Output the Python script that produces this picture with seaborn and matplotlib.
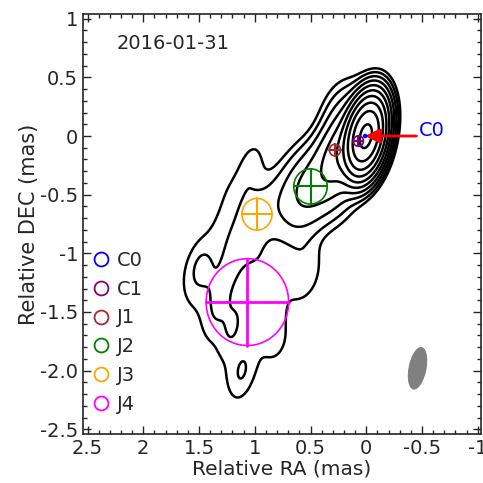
import numpy as np
import matplotlib
matplotlib.use("Agg")
import matplotlib.pyplot as plt
from matplotlib.patches import Ellipse
from matplotlib.lines import Line2D
import seaborn as sns

# ---- model-fit components (overlay) ----
comp_names = ["C0", "C1", "J1", "J2", "J3", "J4"]
comp_ra = [0.01, 0.07, 0.28, 0.50, 0.98, 1.066]
comp_dec = [0.0, -0.043, -0.12, -0.43, -0.667, -1.416]
comp_size = [0.025, 0.09, 0.10, 0.30, 0.27, 0.74]   # FWHM (mas)
comp_colors = ["blue", "purple", "brown", "green", "orange", "magenta"]

# ---- emission blobs that build the CLEAN image (mJy/beam) ----
em_ra = [0.00, 0.07, 0.18, 0.22, 0.32, 0.25, 0.48, 0.58, 0.65, 0.55,
         0.78, 0.98, 1.03, 1.18, 1.07, 1.28,
         1.20, 1.12, 0.80, 1.17, 1.50,
         1.50, 1.40, 1.22, 1.33, 1.20, 1.11, 0.93, 0.86]
em_dec = [0.00, -0.04, 0.15, -0.12, -0.22, -0.45, -0.40, -0.55, -0.85, -1.15,
          -0.58, -0.67, -0.25, -0.50, -0.92, -0.85,
          -1.30, -1.80, -1.75, -2.00, -1.20,
          -1.12, -1.22, -1.14, -1.45, -1.62, -2.02, -1.15, -1.45]
em_peak = [600, 30, 5.0, 16, 9.0, 2.5, 7.0, 3.0, 0.8, 1.4,
           1.5, 1.6, 1.3, 0.9, 1.5, 0.9,
           0.6, 0.55, 0.5, 0.35, 0.35,
           1.3, 0.55, 1.2, 1.2, 1.2, 1.2, 0.9, 0.9]
em_fwhm = [0.10, 0.08, 0.25, 0.15, 0.20, 0.25, 0.30, 0.30, 0.25, 0.20,
           0.30, 0.25, 0.10, 0.20, 0.15, 0.20,
           1.00, 1.00, 0.20, 0.10, 0.35,
           0.05, 0.0, 0.0, 0.05, 0.0, 0.0, 0.10, 0.10]

# ---- restoring beam ----
beam_ra, beam_dec = -0.46, -1.98
beam_min, beam_maj, beam_angle = 0.16, 0.37, 12.0

# contour levels (mJy/beam)
levels = [1, 2, 4, 8, 16, 32, 64, 128, 256, 512]

date_label = "2016-01-31"

sns.set_style("ticks")
plt.rcParams['font.family'] = ['DejaVu Sans']

fig = plt.figure(figsize=(4.83, 4.83), dpi=100)
ax = fig.add_axes([0.172, 0.1015, 0.824, 0.8695])

# image grid
gx = np.linspace(-1.1, 2.6, 700)
gy = np.linspace(-2.6, 1.1, 700)
X, Y = np.meshgrid(gx, gy)
k = 8 * np.log(2)
th = np.deg2rad(beam_angle)
R = np.array([[np.cos(th), -np.sin(th)], [np.sin(th), np.cos(th)]])
SB = R @ np.diag([beam_min**2 / k, beam_maj**2 / k]) @ R.T
Z = np.zeros_like(X)
for x0, y0, p, d in zip(em_ra, em_dec, em_peak, em_fwhm):
    S = SB + np.eye(2) * d**2 / k
    a, b, c = S[0, 0], S[0, 1], S[1, 1]
    det = a * c - b * b
    dx, dy = X - x0, Y - y0
    q = (c * dx**2 - 2 * b * dx * dy + a * dy**2) / det
    Z += p * np.exp(-0.5 * q)

ax.contour(X, Y, Z, levels=levels, colors='black', linewidths=1.8)

# components
for n, x0, y0, d, col in zip(comp_names, comp_ra, comp_dec, comp_size, comp_colors):
    r = d / 2
    ax.add_patch(Ellipse((x0, y0), d, d, fill=False, edgecolor=col, lw=1.2, zorder=5))
    lw = 2.0 if d > 0.5 else 1.5
    ax.plot([x0 - r, x0 + r], [y0, y0], color=col, lw=lw, zorder=5)
    ax.plot([x0, x0], [y0 - r, y0 + r], color=col, lw=lw, zorder=5)

# beam
ax.add_patch(Ellipse((beam_ra, beam_dec), beam_min, beam_maj, angle=beam_angle,
                     facecolor='gray', edgecolor='none', zorder=4))

# arrow to C0
ax.annotate("", xy=(comp_ra[0], comp_dec[0]), xytext=(-0.45, 0.0),
            arrowprops=dict(arrowstyle='-|>', color='red', lw=2,
                            mutation_scale=22, shrinkA=0, shrinkB=0))
ax.text(-0.47, 0.05, "C0", color='blue', fontsize=14, va='center', ha='left')

ax.text(0.085, 0.93, date_label, transform=ax.transAxes, fontsize=14, va='center')

handles = [Line2D([], [], ls='none', marker='o', markersize=10, markerfacecolor='none',
                  markeredgecolor=c, markeredgewidth=1.3) for c in comp_colors]
ax.legend(handles, comp_names, loc='lower left', bbox_to_anchor=(0.006, 0.03),
          frameon=False, fontsize=14, handletextpad=0.4, labelspacing=0.5,
          borderaxespad=0.0, handlelength=0.8)

ax.set_xlim(2.54, -1.03)
ax.set_ylim(-2.54, 1.04)
ax.set_xticks([2.5, 2, 1.5, 1, 0.5, 0, -0.5, -1])
ax.set_xticklabels(["2.5", "2", "1.5", "1", "0.5", "0", "-0.5", "-1"])
ax.set_yticks([1, 0.5, 0, -0.5, -1, -1.5, -2, -2.5])
ax.set_yticklabels(["1", "0.5", "0", "-0.5", "-1", "-1.5", "-2.0", "-2.5"])
ax.xaxis.set_minor_locator(matplotlib.ticker.MultipleLocator(0.1))
ax.yaxis.set_minor_locator(matplotlib.ticker.MultipleLocator(0.1))
ax.tick_params(which='both', direction='in', top=True, right=True, labelsize=14, width=1)
ax.tick_params(which='major', length=6)
ax.tick_params(which='minor', length=3)
for s in ax.spines.values():
    s.set_linewidth(1.2)
ax.set_xlabel("Relative RA (mas)", fontsize=14.5, labelpad=1)
ax.set_ylabel("Relative DEC (mas)", fontsize=15, labelpad=1)

fig.savefig("out.png", dpi=100)
